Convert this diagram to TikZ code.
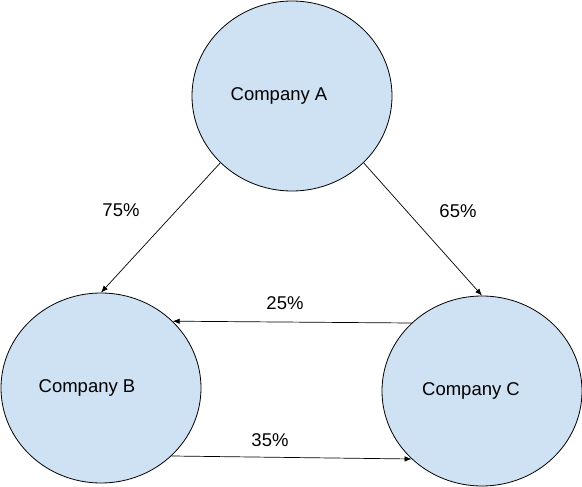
\documentclass[tikz,border=0pt]{standalone}
\usepackage{fontspec}
\setmainfont{Liberation Sans}
\usetikzlibrary{arrows.meta,shapes.geometric}
\definecolor{compfill}{HTML}{CFE2F3}
\begin{document}
\begin{tikzpicture}[x=1pt,y=-1pt,
  every node/.style={font=\fontsize{18.5}{22}\selectfont},
  company/.style={draw, ellipse, fill=compfill, line width=0.8pt, minimum width=200pt, minimum height=190pt, inner sep=0pt},
  share edge/.style={draw,-{Latex[length=7pt,width=5.5pt]},line width=0.7pt}
]
\useasboundingbox (0,0) rectangle (582,487);
% Define the nodes
\node[company] (A) at (292,96) {\hspace*{-26pt}Company A};
\node[company] (B) at (101,388) {\hspace*{-28pt}Company B};
\node[company] (C) at (482,391) {\hspace*{-22pt}Company C};
\node (pAB) at (121,210) {75\%};
\node (pAC) at (458,211) {65\%};
\node (pCB) at (285,303) {25\%};
\node (pBC) at (270,440) {35\%};
% Define the edges
\path (A.223) edge[share edge] (B.north);
\path (A.317) edge[share edge] (C.north);
\path (C.136) edge[share edge] (B.43);
\path (B.316) edge[share edge] (C.224);
\end{tikzpicture}
\end{document}
